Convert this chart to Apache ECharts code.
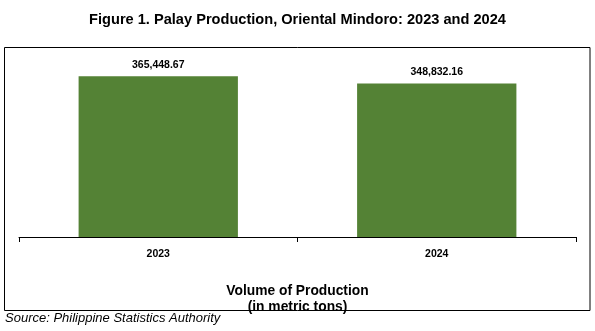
<!DOCTYPE html>
<html>
<head>
<meta charset="utf-8">
<script src="https://cdn.jsdelivr.net/npm/echarts@6/dist/echarts.min.js"></script>
<style>html,body{margin:0;padding:0;background:#fff}#c{width:595px;height:331px}</style>
</head>
<body>
<div id="c"></div>
<script>
const categories = ['2023', '2024'];
const production = [365448.67, 348832.16];
const titleText = 'Figure 1. Palay Production, Oriental Mindoro: 2023 and 2024';
const axisTitle = 'Volume of Production\n(in metric tons)';
const sourceText = 'Source: Philippine Statistics Authority';

const chart = echarts.init(document.getElementById('c'), null, {renderer: 'canvas'});
const fmt = v => v.toLocaleString('en-US', {minimumFractionDigits: 2, maximumFractionDigits: 2});
chart.setOption({
  animation: false,
  backgroundColor: '#fff',
  title: {
    text: titleText, left: 'center', top: 7,
    textStyle: {fontFamily: 'Liberation Sans, Arial', fontWeight: 'bold', fontSize: 14.6, color: '#000'}
  },
  graphic: [
    {type: 'rect', shape: {x: 4.5, y: 47.5, width: 585.5, height: 263}, style: {fill: 'none', stroke: '#000', lineWidth: 1}, z: 10},
    {type: 'text', left: 5, top: 312, style: {text: sourceText, font: 'italic 13px "Liberation Sans", Arial', fill: '#000'}}
  ],
  grid: {left: 19, right: 19, top: 61, bottom: 94},
  xAxis: {
    type: 'category', data: categories,
    axisLine: {lineStyle: {color: '#000', width: 1}},
    axisTick: {show: true, length: 5, lineStyle: {color: '#000'}},
    axisLabel: {fontFamily: 'Liberation Sans, Arial', fontWeight: 'bold', fontSize: 10.5, color: '#000', margin: 12},
    name: axisTitle, nameLocation: 'middle', nameGap: 46,
    nameTextStyle: {fontFamily: 'Liberation Sans, Arial', fontWeight: 'bold', fontSize: 13.8, color: '#000', lineHeight: 16}
  },
  yAxis: {type: 'value', min: 0, max: 400000, show: false, splitLine: {show: false}},
  series: [{
    type: 'bar', data: production, barWidth: '57.2%',
    itemStyle: {color: '#548235'},
    label: {show: true, position: 'top', distance: 6, formatter: p => fmt(p.value),
      fontFamily: 'Liberation Sans, Arial', fontWeight: 'bold', fontSize: 10.5, color: '#000'}
  }]
});
</script>
</body>
</html>
